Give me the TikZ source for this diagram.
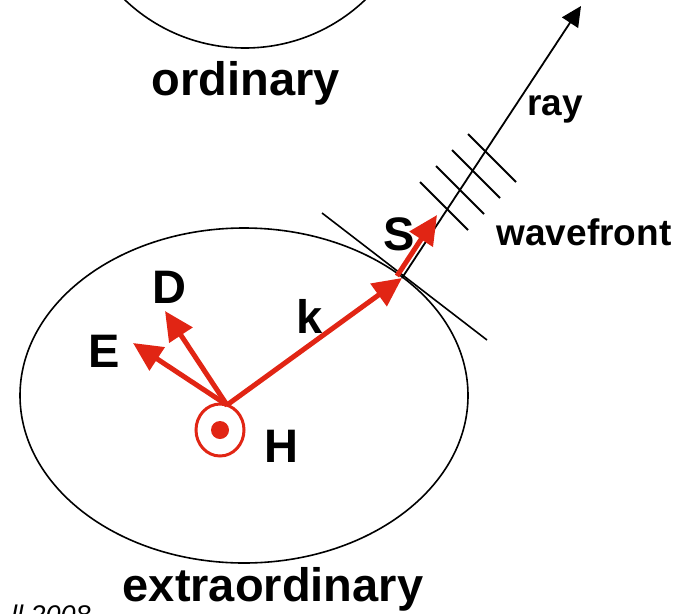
\documentclass[tikz,border=0pt]{standalone}
\usepackage{fontspec}
\setmainfont{Liberation Sans}
\usetikzlibrary{arrows.meta,shapes.geometric}
\definecolor{redv}{RGB}{225,37,20}
\begin{document}
\begin{tikzpicture}[x=1pt,y=-1pt,
  lbl/.style={font=\fontsize{47}{50}\selectfont\bfseries, inner sep=0, anchor=base},
  smalllbl/.style={font=\fontsize{37}{40}\selectfont\bfseries, inner sep=0, anchor=base},
  vec/.style={draw=redv, line width=5pt, -{Triangle[length=29pt,width=27pt]}},
  blackline/.style={line width=1.6pt},
  front/.style={line width=1.8pt}]
\useasboundingbox (0,0) rectangle (687,613);
% index ellipsoid sections
\node[draw, blackline, circle, minimum size=348pt, inner sep=0] (ord) at (245,-126) {};
\node[draw, blackline, ellipse, minimum width=448pt, minimum height=335pt, inner sep=0] (ext) at (244,395.5) {};
% H symbol
\node[draw=redv, line width=3pt, ellipse, minimum width=48pt, minimum height=52pt, inner sep=0] (Hc) at (220,430) {};
\node[circle, fill=redv, minimum size=18pt, inner sep=0] (Hdot) at (Hc.center) {};
% points
\coordinate (O) at (227,405);
\coordinate (Et) at (133,343);
\coordinate (Dt) at (165,311);
\coordinate (T) at (402,278);
\coordinate (S0) at (397,276);
\coordinate (St) at (437,215);
\coordinate (Rt) at (581,6);
\coordinate (tA) at (322,213);
\coordinate (tB) at (487,340);
% tangent line and ray
\draw[blackline] (tA) -- (tB);
\draw[front, -{Triangle[length=20pt,width=19pt]}] (T) -- (Rt);
% wavefronts
\foreach \i in {0,...,3}
  \draw[front] (420+16*\i,182-16*\i) -- ++(48,48);
% vectors
\draw[vec] (O) -- (Et);
\draw[vec] (O) -- (Dt);
\draw[vec] (O) -- (T);
\draw[vec] (S0) -- (St);
% labels
\node[lbl] (lord) at (246,95) {ordinary};
\node[lbl] (lext) at (273,601) {extraordinary};
\node[smalllbl] (lray) at (555,115) {ray};
\node[smalllbl] (lwave) at (584,245) {wavefront};
\node[lbl] (lS) at (399,250) {S};
\node[lbl] (lD) at (169,303) {D};
\node[lbl] (lE) at (104,367) {E};
\node[lbl] (lk) at (310,333) {k};
\node[lbl] (lH) at (281,462) {H};
\node[font=\fontsize{27}{30}\selectfont\itshape, anchor=base east, inner sep=0] (copy) at (91,624) {ll 2008};
\end{tikzpicture}
\end{document}
